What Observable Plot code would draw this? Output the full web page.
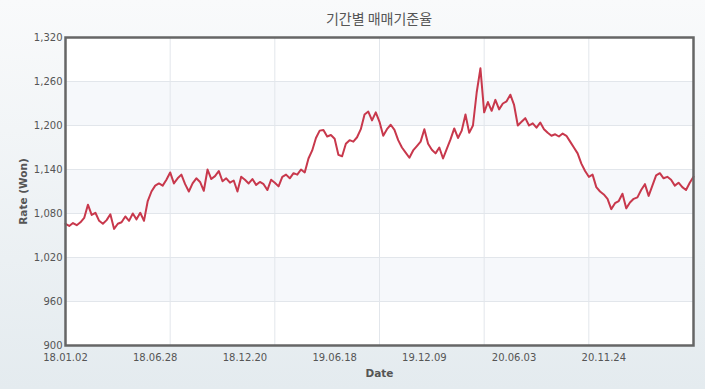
<!DOCTYPE html>
<html><head><meta charset="utf-8">
<script src="https://cdn.jsdelivr.net/npm/d3@7"></script>
<script src="https://cdn.jsdelivr.net/npm/@observablehq/plot@0.6"></script>
<style>
html,body{margin:0;padding:0;}
body{width:705px;height:389px;overflow:hidden;background:linear-gradient(to bottom,#f9fafb,#e4ebef);}
#wrap{position:relative;width:705px;height:389px;}
#title{position:absolute;left:65px;width:628px;top:8px;text-align:center;font:14px "Noto Sans CJK KR",sans-serif;color:#555;}
#chart{position:absolute;left:0;top:0;}
g[aria-label="x-axis label"] text, g[aria-label="y-axis label"] text{font-weight:bold;font-size:10.5px;}
</style></head>
<body><div id="wrap"><div id="chart"></div><div id="title">기간별 매매기준율</div></div>
<script>
const tickLabels = ["18.01.02","18.06.28","18.12.20","19.06.18","19.12.09","20.06.03","20.11.24"];
const tickIndex = [0,120,240,360,480,600,720];
const gridIndex = [140,280,420,560,700];
const yTicks = [900,960,1020,1080,1140,1200,1260,1320];
const bandLow = [960,1080,1200];
const bandHigh = [1020,1140,1260];
const step = 5;
const rates = [
1066,1063,1067,1064,1068,1074,1092,1078,1081,1070,
1066,1071,1079,1059,1066,1068,1076,1070,1080,1072,
1081,1070,1097,1110,1118,1121,1118,1126,1136,1121,
1128,1133,1120,1110,1121,1128,1123,1111,1140,1127,
1131,1138,1124,1128,1122,1125,1110,1130,1126,1121,
1127,1119,1123,1120,1112,1126,1122,1117,1130,1133,
1128,1135,1133,1140,1136,1155,1166,1183,1193,1194,
1185,1187,1182,1160,1158,1175,1180,1178,1184,1195,
1215,1219,1207,1218,1205,1186,1195,1201,1194,1180,
1170,1163,1156,1166,1172,1178,1195,1175,1167,1162,
1170,1155,1168,1181,1196,1183,1193,1215,1190,1200,
1245,1278,1218,1232,1220,1235,1222,1230,1233,1242,
1228,1200,1205,1210,1200,1203,1197,1204,1195,1190,
1186,1188,1185,1189,1186,1178,1170,1162,1148,1138,
1130,1133,1116,1110,1106,1100,1086,1094,1097,1107,
1087,1095,1100,1102,1112,1120,1104,1118,1132,1135,
1128,1130,1126,1118,1122,1116,1112,1122,1130
];
const bands = bandLow.map((lo, k) => ({lo, hi: bandHigh[k]}));
const data = rates.map((v, k) => ({i: k * step, v}));
const chart = Plot.plot({
  width: 705, height: 389,
  marginLeft: 65, marginRight: 12, marginTop: 37, marginBottom: 44,
  style: {background: "transparent", fontFamily: "'DejaVu Sans', Verdana, sans-serif", fontSize: "10px", color: "#555"},
  x: {domain: [0, 840]},
  y: {domain: [900, 1320]},
  marks: [
    Plot.frame({fill: "white", stroke: null}),
    Plot.rect(bands, {y1: "lo", y2: "hi", fill: "#f6f8fb"}),
    Plot.gridY(yTicks, {stroke: "#e2e6eb", strokeOpacity: 1}),
    Plot.gridX(gridIndex, {stroke: "#e2e6eb", strokeOpacity: 1}),
    Plot.axisY(yTicks, {tickSize: 0, tickPadding: 3, tickFormat: d3.format(","), label: "Rate (Won)", labelAnchor: "center", labelOffset: 46, labelArrow: "none"}),
    Plot.axisX(tickIndex, {tickSize: 0, tickPadding: 8, tickFormat: d => tickLabels[tickIndex.indexOf(d)], label: "Date", labelAnchor: "center", labelOffset: 31, labelArrow: "none"}),
    Plot.lineY(data, {x: "i", y: "v", stroke: "#c8384c", strokeWidth: 2}),
    Plot.frame({stroke: "#666", strokeWidth: 2.5})
  ]
});
document.getElementById("chart").appendChild(chart);
</script>
</body></html>
